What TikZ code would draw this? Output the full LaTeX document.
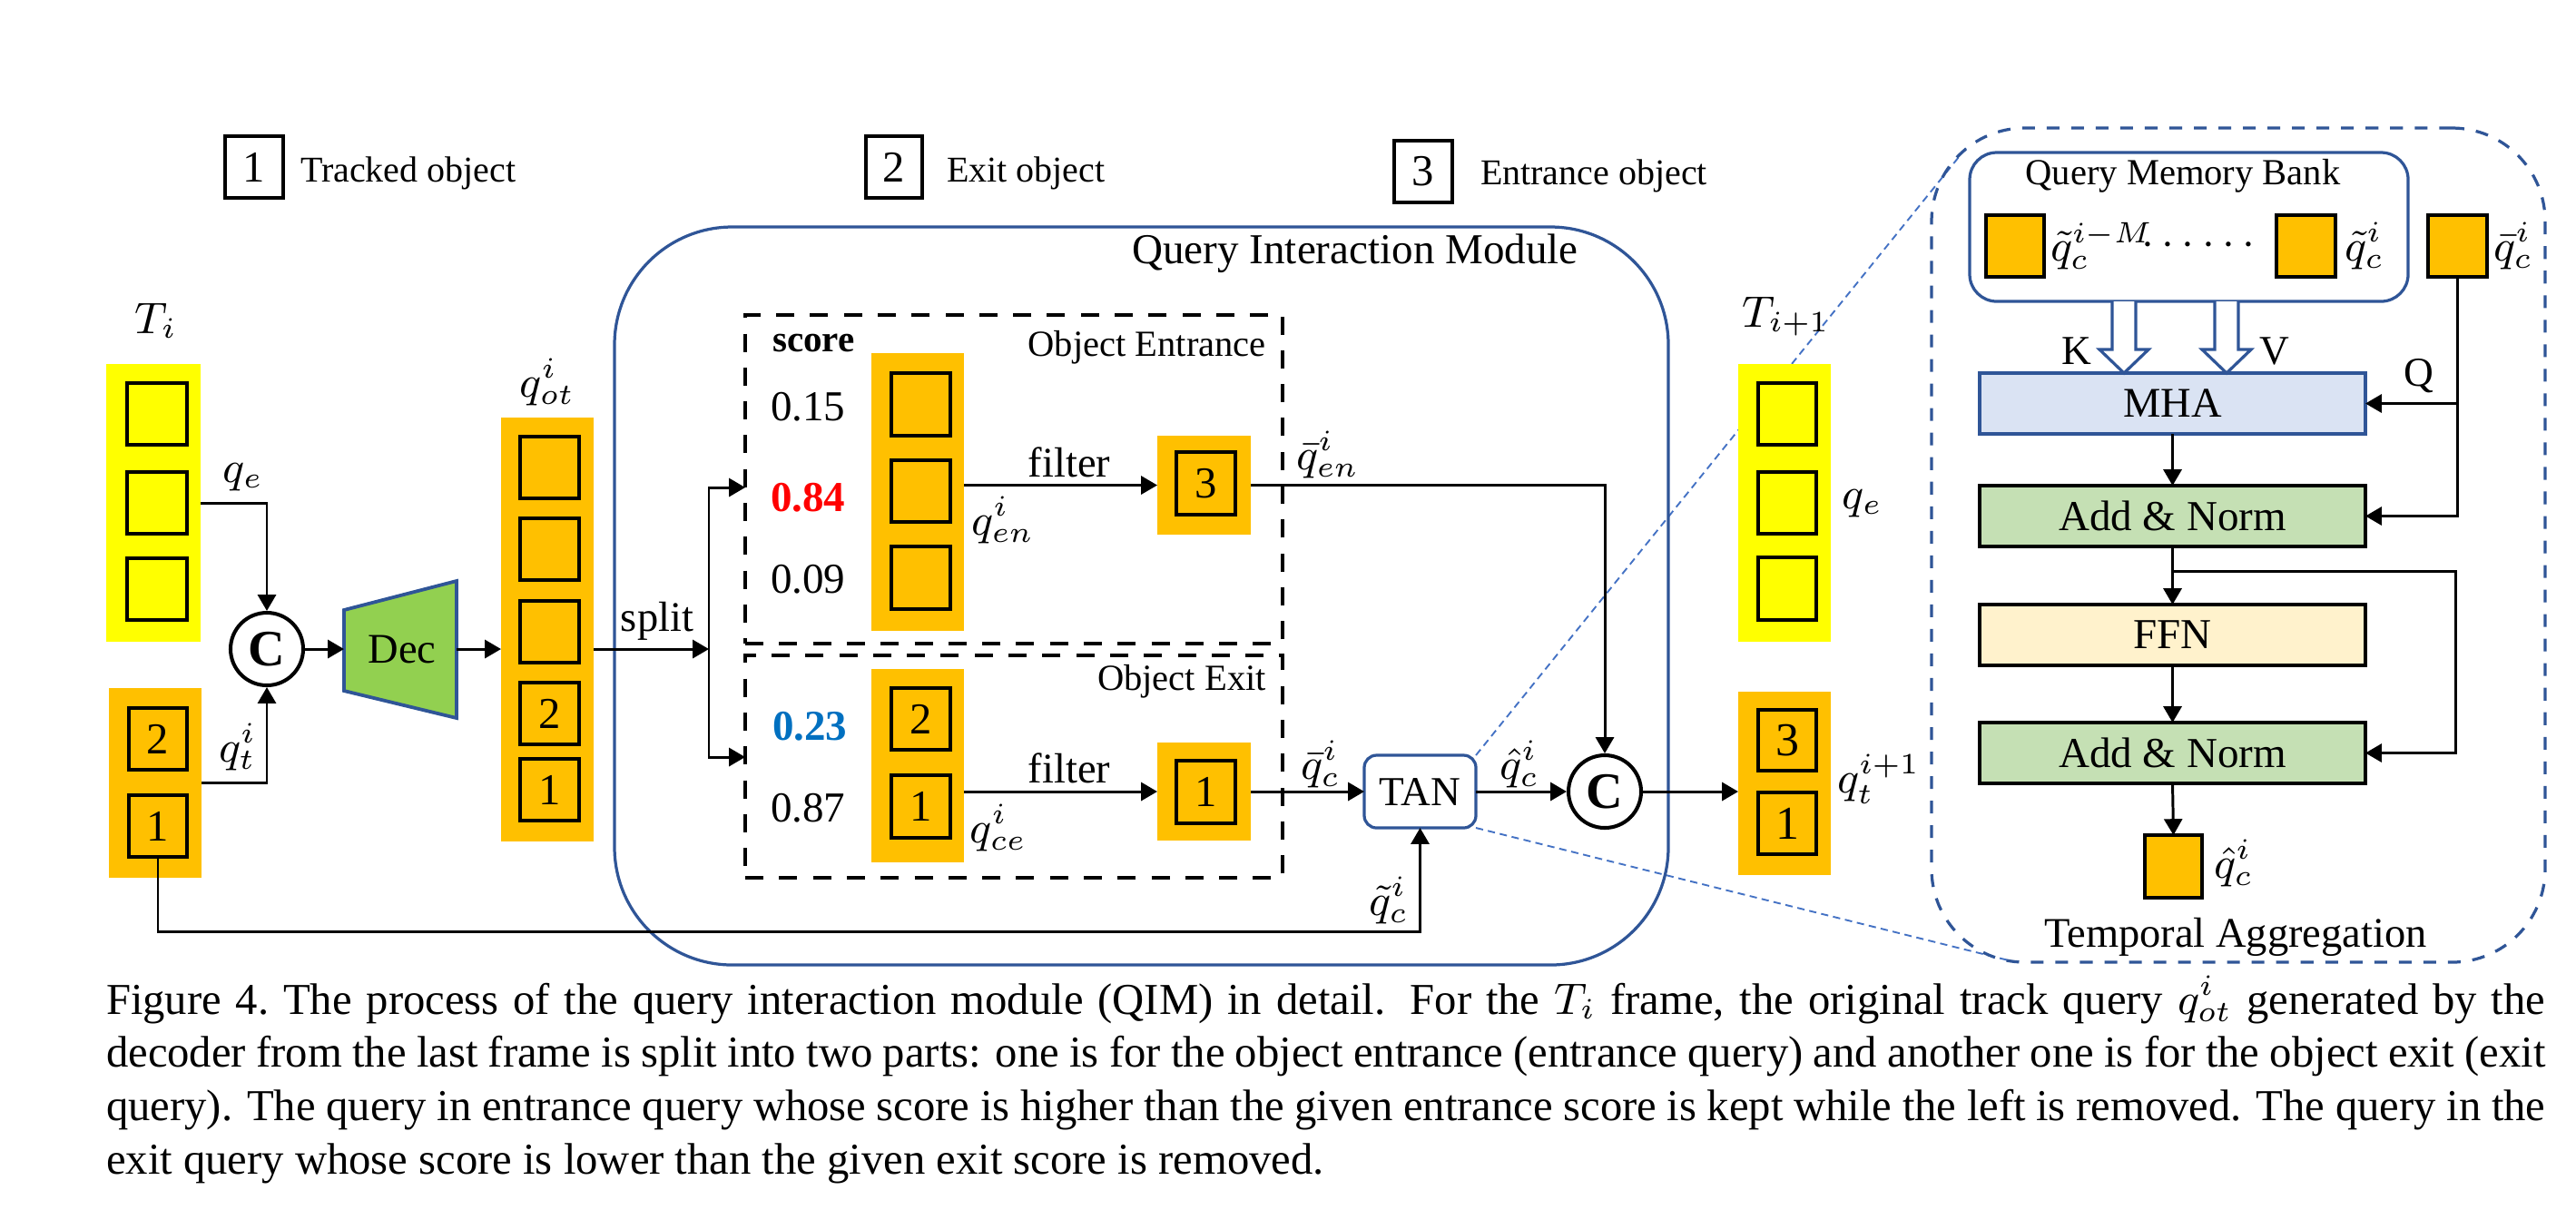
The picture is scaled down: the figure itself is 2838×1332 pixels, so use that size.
\documentclass[tikz,border=0pt]{standalone}
\usepackage{fontspec}
\setmainfont{Liberation Serif}
\usetikzlibrary{arrows.meta,calc}
\definecolor{qorange}{HTML}{FFC000}
\definecolor{qyellow}{HTML}{FFFF00}
\definecolor{qgreen}{HTML}{92D050}
\definecolor{qblue}{HTML}{2F5597}
\definecolor{qlblue}{HTML}{4472C4}
\definecolor{qmha}{HTML}{DAE3F3}
\definecolor{qan}{HTML}{C5E0B4}
\definecolor{qffn}{HTML}{FFF2CC}
\definecolor{qred}{HTML}{FF0000}
\definecolor{qnum}{HTML}{0070C0}
\newcommand\fsz[1]{\fontsize{#1}{#1}\selectfont}
% rectangle node from pixel corners: style, x1, y1, x2, y2, name, text
\newcommand\rectnode[7]{\node[#1, minimum width={(#4-#2)*0.185pt}, minimum height={(#5-#3)*0.185pt}] (#6) at ({(#2+#4)/2},{(#3+#5)/2}) {#7};}
\pgfdeclarelayer{bg}\pgfsetlayers{bg,main}
\begin{document}
\begin{tikzpicture}[x=0.185pt,y=-0.185pt,
  bx/.style={inner sep=0pt, outer sep=0pt},
  colY/.style={bx, fill=qyellow},
  colO/.style={bx, fill=qorange},
  sq/.style={bx, draw=black, line width=0.8pt, font=\fsz{9}},
  osq/.style={bx, draw=black, line width=0.6pt, fill=qorange},
  arr/.style={line width=0.55pt, -{Triangle[length=3.3pt,width=3.7pt]}},
  txt/.style={inner sep=0pt, font=\fsz{8.6}},
  leg/.style={inner sep=0pt, font=\fsz{7.4}},
  mth/.style={inner sep=0pt, font=\fsz{9}},
  cc/.style={draw, circle, line width=0.75pt, minimum size=14.8pt, inner sep=0pt, fill=white, font=\bfseries\fsz{10.4}},
  dbox/.style={bx, draw=black, line width=0.9pt, dash pattern=on 3.7pt off 3.2pt},
  blk/.style={bx, draw=black, line width=0.75pt, font=\fsz{8.7}},
  zl/.style={draw=qlblue, line width=0.35pt, dash pattern=on 1.5pt off 1pt},
  num/.style={inner sep=0pt, anchor=base west, font=\fsz{8.7}}
]
\useasboundingbox (0,0) rectangle (2838,1332);

% ---------- legend ----------
\rectnode{sq}{248}{150}{312}{218}{l1}{1}
\node[leg, anchor=base west] (lt1) at (330,200) {Tracked object};
\rectnode{sq}{954}{150}{1016}{218}{l2}{2}
\node[leg, anchor=base west] (lt2) at (1042,200) {Exit object};
\rectnode{sq}{1536}{155}{1600}{223}{l3}{3}
\node[leg, anchor=base west] (lt3) at (1630,203) {Entrance object};

% ---------- T_i ----------
\rectnode{colY}{117}{401}{221}{707}{Ti}{}
\rectnode{sq}{140}{422}{206}{490}{ti1}{}
\rectnode{sq}{140}{520}{206}{588}{ti2}{}
\rectnode{sq}{140}{615}{206}{683}{ti3}{}
\node[mth, anchor=base] (TiL) at (172,367) {$T_i$};

% ---------- q_t ----------
\rectnode{colO}{120}{758}{222}{967}{qt}{}
\rectnode{sq}{142}{780}{206}{848}{qt2}{2}
\rectnode{sq}{142}{876}{206}{944}{qt1}{1}
\node[mth] (qtL) at (262,823) {$q_t^i$};

% ---------- concat 1 ----------
\node[cc] (c1) at (294,715) {C};
\node[mth] (qeL) at (268,526) {$q_e$};
\draw[arr] (ti2.center -| Ti.east) -| (c1.north);
\coordinate (qtout) at (222,862);
\draw[arr] (qtout) -| (c1.south);

% ---------- decoder ----------
\rectnode{bx}{379}{640}{503}{791}{dec}{}
\filldraw[fill=qgreen, draw=qblue, line width=0.7pt] (379,672) -- (503,640) -- (503,791) -- (379,761) -- cycle;
\node[txt] (decL) at (443,715) {Dec};
\draw[arr] (c1.east) -- (c1.east -| dec.west);

% ---------- q_ot ----------
\rectnode{colO}{552}{460}{654}{927}{qot}{}
\rectnode{sq}{573}{481}{638}{549}{qo1}{}
\rectnode{sq}{573}{571}{638}{639}{qo2}{}
\rectnode{sq}{573}{662}{638}{730}{qo3}{}
\rectnode{sq}{573}{752}{638}{820}{qo4}{2}
\rectnode{sq}{573}{836}{638}{904}{qo5}{1}
\node[mth] (qotL) at (603,421) {$q_{ot}^i$};
\draw[arr] (c1.east -| dec.east) -- (c1.east -| qot.west);

% ---------- QIM ----------
\rectnode{bx, draw=qblue, line width=0.6pt, rounded corners=24pt}{677}{250}{1838}{1063}{qim}{}
\node[txt, anchor=base, font=\fsz{8.7}] (qimL) at (1493,290) {Query Interaction Module};

% split
\coordinate (sp) at (781,715);
\coordinate (enin) at (821,537);
\coordinate (exin) at (821,834);
\draw[arr] (c1.east -| qot.east) -- (sp);
\draw[arr] (sp) |- (enin);
\draw[arr] (sp) |- (exin);
\node[txt, anchor=base] (splitL) at (724,695) {split};

% ---------- entrance ----------
\rectnode{dbox}{821}{347}{1413}{709}{enbox}{}
\node[inner sep=0pt, anchor=base west, font=\bfseries\fsz{7.6}] (scoreL) at (850,387) {score};
\node[num] (n1) at (848,463) {0.15};
\node[num, text=qred, font=\bfseries\fsz{8.7}] (n2) at (848,563) {0.84};
\node[num] (n3) at (848,653) {0.09};
\rectnode{colO}{960}{389}{1062}{695}{encol}{}
\rectnode{sq}{982}{411}{1047}{480}{en1}{}
\rectnode{sq}{982}{507}{1047}{575}{en2}{}
\rectnode{sq}{982}{602}{1047}{671}{en3}{}
\node[inner sep=0pt, anchor=base east, font=\fsz{7.5}] (enL) at (1396,392) {Object Entrance};
\rectnode{colO}{1275}{480}{1378}{589}{b3}{}
\rectnode{sq}{1296}{498}{1361}{567}{b3s}{3}
\draw[arr] (b3.west -| encol.east) -- (b3.west);
\node[txt, anchor=base] (f1) at (1178,525) {filter};
\node[mth] (qenL) at (1105,573) {$q_{en}^i$};

% ---------- exit ----------
\rectnode{dbox}{821}{722}{1413}{967}{exbox}{}
\node[num, text=qnum, font=\bfseries\fsz{8.7}] (n4) at (850,815) {0.23};
\node[num] (n5) at (848,905) {0.87};
\rectnode{colO}{960}{737}{1062}{950}{excol}{}
\rectnode{sq}{982}{758}{1047}{826}{ex2}{2}
\rectnode{sq}{982}{854}{1047}{923}{ex1}{1}
\node[inner sep=0pt, anchor=base east, font=\fsz{7.5}] (exL) at (1396,760) {Object Exit};
\rectnode{colO}{1275}{818}{1378}{926}{b1}{}
\rectnode{sq}{1296}{838}{1361}{907}{b1s}{1}
\draw[arr] (b1.west -| excol.east) -- (b1.west);
\node[txt, anchor=base] (f2) at (1178,862) {filter};
\node[mth] (qceL) at (1100,912) {$q_{ce}^i$};

% ---------- TAN and concat 2 ----------
\rectnode{bx, draw=qblue, line width=0.6pt, rounded corners=2.5pt, fill=white, font=\fsz{8.4}}{1503}{832}{1626}{912}{tan}{TAN}
\draw[arr] (b1.east) -- (tan.west);
\node[cc] (c2) at (1768,872) {C};
\draw[arr] (tan.east) -- (c2.west);
\draw[arr] (b3.east) -| (c2.north);
\node[mth] (qbenL) at (1463,501) {$\bar{q}_{en}^i$};
\node[mth] (qbcL) at (1455,842) {$\bar{q}_{c}^i$};
\node[mth] (qhcL) at (1674,842) {$\hat{q}_{c}^i$};
\node[mth] (qtcL) at (1530,992) {$\tilde{q}_{c}^i$};
\coordinate (botline) at (0,1026);
\draw[arr] (qt1.south) -- (qt1.south |- botline) -| (tan.south);

% ---------- T_{i+1} ----------
\rectnode{colY}{1915}{401}{2017}{707}{Tn}{}
\rectnode{sq}{1937}{422}{2001}{490}{tn1}{}
\rectnode{sq}{1937}{520}{2001}{588}{tn2}{}
\rectnode{sq}{1937}{614}{2001}{683}{tn3}{}
\node[mth, anchor=base] (TnL) at (1968,360) {$T_{i+1}$};
\node[mth] (qe2L) at (2052,555) {$q_e$};
\rectnode{colO}{1915}{762}{2017}{964}{qtn}{}
\rectnode{sq, font=\fsz{9.6}}{1937}{782}{2001}{849}{qn3}{3}
\rectnode{sq, font=\fsz{9.6}}{1937}{873}{2001}{941}{qn1}{1}
\node[mth] (qtnL) at (2070,858) {$q_t^{i+1}$};
\draw[arr] (c2.east) -- (c2.east -| qtn.west);

% ---------- Temporal Aggregation ----------
\rectnode{bx, draw=qblue, line width=0.6pt, dash pattern=on 2.6pt off 2.4pt, rounded corners=19pt}{2128}{141}{2804}{1060}{ta}{}
\coordinate (za) at (2166,163);
\coordinate (zb) at (2213,1058);
\begin{pgfonlayer}{bg}
\draw[zl] (tan.north east) -- (za);
\draw[zl] (tan.south east) -- (zb);
\end{pgfonlayer}

\rectnode{bx, draw=qblue, line width=0.6pt, rounded corners=5.5pt}{2170}{168}{2653}{332}{bank}{}
\node[inner sep=0pt, anchor=base, font=\fsz{7.5}] (bankL) at (2405,203) {Query Memory Bank};
\rectnode{osq}{2188}{237}{2252}{305}{bk1}{}
\node[mth, anchor=west] (bk1L) at (2258,271) {$\tilde{q}_{c}^{i{-}M}$};
\node[txt] (dots) at (2422,271) {$\cdots\cdots$};
\rectnode{osq}{2508}{237}{2573}{305}{bk2}{}
\node[mth] (bk2L) at (2605,271) {$\tilde{q}_{c}^{i}$};
\rectnode{osq}{2675}{237}{2740}{305}{qbar}{}
\node[mth] (qbarL) at (2769,271) {$\bar{q}_{c}^{i}$};

\rectnode{bx, draw=qblue, line width=0.6pt, fill=qmha, font=\fsz{8.6}}{2181}{411}{2606}{478}{mha}{MHA}
\filldraw[fill=white, draw=qblue, line width=0.6pt] (2327,332) -- (2327,385) -- (2313,385) -- (2340,411) -- (2367,385) -- (2353,385) -- (2353,332);
\filldraw[fill=white, draw=qblue, line width=0.6pt] (2440,332) -- (2440,385) -- (2426,385) -- (2453,411) -- (2480,385) -- (2466,385) -- (2466,332);
\node[inner sep=0pt, font=\fsz{8.4}] (kL) at (2288,387) {K};
\node[inner sep=0pt, font=\fsz{8.4}] (vL) at (2506,387) {V};
\node[inner sep=0pt, font=\fsz{8.4}] (qL) at (2665,414) {Q};

\rectnode{blk, fill=qan}{2181}{535}{2606}{602}{an1}{Add \& Norm}
\rectnode{blk, fill=qffn}{2181}{666}{2606}{733}{ffn}{FFN}
\rectnode{blk, fill=qan}{2181}{796}{2606}{863}{an2}{Add \& Norm}
\rectnode{osq}{2363}{920}{2426}{989}{outq}{}
\node[mth] (outL) at (2461,951) {$\hat{q}_{c}^{i}$};
\node[inner sep=0pt, anchor=base, font=\fsz{8.6}] (taL) at (2463,1043) {Temporal Aggregation};

\draw[arr] (qbar.south) |- (an1.east);
\draw[arr] (qbar.south |- mha.east) -- (mha.east);
\draw[arr] (mha.south) -- (an1.north);
\draw[arr] (an1.south) -- (ffn.north);
\coordinate (skip) at (2705,629);
\draw[arr] (an1.south |- skip) -- (skip) |- (an2.east);
\draw[arr] (ffn.south) -- (an2.north);
\draw[arr] (an2.south) -- (outq.north);

% ---------- caption ----------
\node[anchor=base west, inner sep=0pt] (cap) at (116,1117) {\parbox[t]{497.1pt}{\fontsize{9}{10.9}\selectfont
Figure 4.\ The process of the query interaction module (QIM) in detail.  For the $T_i$ frame, the original track query $q^i_{ot}$ generated by the\linebreak
decoder from the last frame is split into two parts: one is for the object entrance (entrance query) and another one is for the object exit (exit\linebreak
query). The query in entrance query whose score is higher than the given entrance score is kept while the left is removed. The query in the\linebreak
exit query whose score is lower than the given exit score is removed.}};
\end{tikzpicture}
\end{document}
